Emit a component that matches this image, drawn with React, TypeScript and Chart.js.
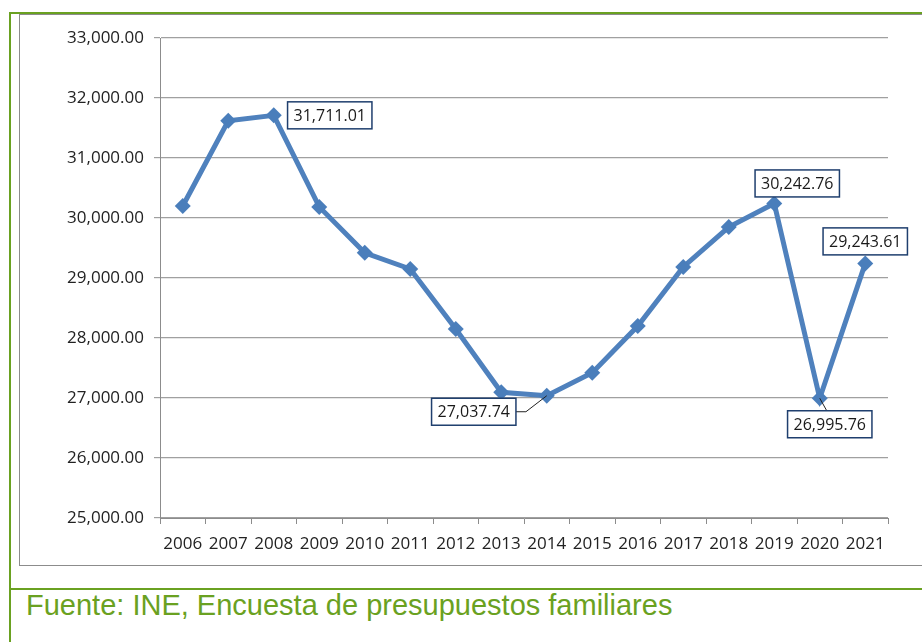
import React, { useEffect, useRef } from "react";
import { Chart, registerables } from "chart.js";

Chart.register(...registerables);

const years = ["2006", "2007", "2008", "2009", "2010", "2011", "2012", "2013", "2014", "2015", "2016", "2017", "2018", "2019", "2020", "2021"];
const gastoMedio = [30200, 31620, 31711.01, 30185, 29420, 29150, 28150, 27095, 27037.74, 27420, 28200, 29185, 29850, 30242.76, 26995.76, 29243.61];
const yMin = 25000;
const yMax = 33000;
const yStep = 1000;
const labelledYears = ["2008", "2014", "2019", "2020", "2021"];
const footerText = "Fuente: INE, Encuesta de presupuestos familiares";

// label placement (offsets relative to point, in px) – styling only
const labelPlacement: Record<string, { dx: number; dy: number; leader?: boolean }> = {
  "2008": { dx: 56, dy: 0 },
  "2014": { dx: -73, dy: 16, leader: true },
  "2019": { dx: 23, dy: -20 },
  "2020": { dx: 10, dy: 26, leader: true },
  "2021": { dx: 0, dy: -22 },
};

const fmt = (v: number) =>
  v.toLocaleString("en-US", { minimumFractionDigits: 2, maximumFractionDigits: 2 });

const FONT = "'Open Sans', 'DejaVu Sans', sans-serif";

const boxLabelPlugin = {
  id: "boxLabels",
  afterDatasetsDraw(chart: any) {
    const ctx = chart.ctx;
    const meta = chart.getDatasetMeta(0);
    ctx.save();
    ctx.font = `16px ${FONT}`;
    ctx.textAlign = "center";
    ctx.textBaseline = "middle";
    labelledYears.forEach((yr) => {
      const i = years.indexOf(yr);
      const el = meta.data[i];
      const p = labelPlacement[yr];
      const text = fmt(gastoMedio[i]);
      const w = ctx.measureText(text).width + 12;
      const h = 27;
      const cx = el.x + p.dx;
      const cy = el.y + p.dy;
      if (p.leader) {
        ctx.strokeStyle = "#222";
        ctx.lineWidth = 1;
        ctx.beginPath();
        if (p.dx < 0) {
          ctx.moveTo(cx + w / 2, cy);
          ctx.lineTo(cx + w / 2 + 10, cy);
          ctx.lineTo(el.x, el.y);
        } else {
          ctx.moveTo(el.x, el.y);
          ctx.lineTo(cx - 3, cy - h / 2);
        }
        ctx.stroke();
      }
      ctx.fillStyle = "#ffffff";
      ctx.fillRect(cx - w / 2, cy - h / 2, w, h);
      ctx.strokeStyle = "#1F3F6E";
      ctx.lineWidth = 1.5;
      ctx.strokeRect(cx - w / 2, cy - h / 2, w, h);
      ctx.fillStyle = "#1a1a1a";
      ctx.fillText(text, cx, cy + 1);
    });
    ctx.restore();
  },
};

function LineChart() {
  const ref = useRef<HTMLCanvasElement | null>(null);
  useEffect(() => {
    if (!ref.current) return;
    const chart = new Chart(ref.current, {
      type: "line",
      data: {
        labels: years,
        datasets: [
          {
            data: gastoMedio,
            borderColor: "#4F81BD",
            backgroundColor: "#4F81BD",
            borderWidth: 5,
            pointStyle: "rectRot",
            pointRadius: 8,
            pointHoverRadius: 8,
            pointBackgroundColor: "#4A7EBB",
            pointBorderColor: "#4A7EBB",
            pointBorderWidth: 0,
            tension: 0,
          },
        ],
      },
      options: {
        animation: false,
        responsive: false,
        maintainAspectRatio: false,
        layout: { padding: { top: 23, right: 34, left: 0, bottom: 0 } },
        plugins: { legend: { display: false }, tooltip: { enabled: false } },
        scales: {
          x: {
            offset: true,
            grid: { display: true, drawOnChartArea: false, drawTicks: true, tickLength: 6, offset: true, color: "#8C8C8C" },
            border: { display: true, color: "#8C8C8C", width: 1 },
            ticks: { color: "#222", font: { family: FONT, size: 17 }, maxRotation: 0, autoSkip: false, padding: 10 },
            afterFit: (s: any) => { s.height = 47; },
          },
          y: {
            min: yMin,
            max: yMax,
            ticks: {
              stepSize: yStep,
              color: "#222",
              font: { family: FONT, size: 17 },
              padding: 10,
              callback: (v: any) => fmt(Number(v)),
            },
            grid: { color: "#A0A0A0", tickLength: 6, lineWidth: 1.2 },
            border: { display: true, color: "#8C8C8C", width: 1 },
            afterFit: (s: any) => { s.width = 140; },
          },
        },
      },
      plugins: [boxLabelPlugin],
    });
    return () => chart.destroy();
  }, []);
  return <canvas ref={ref} width={902} height={550} style={{ position: "absolute", left: 20, top: 15, width: 902, height: 550 }} />;
}

export default function App() {
  const green = "#6AA121";
  return (
    <div style={{ position: "fixed", left: 0, top: 0, width: 922, height: 642, background: "#fff", overflow: "hidden" }}>
      {/* inner gray frame */}
      <div style={{ position: "absolute", left: 19, top: 14, width: 920, height: 552, border: "1px solid #8C8C8C", boxSizing: "border-box" }} />
      {/* green frame lines */}
      <div style={{ position: "absolute", left: 9, top: 12, width: 913, height: 2, background: green }} />
      <div style={{ position: "absolute", left: 9, top: 12, width: 2, height: 630, background: green }} />
      <div style={{ position: "absolute", left: 9, top: 588, width: 913, height: 2, background: green }} />
      <LineChart />
      <div
        style={{
          position: "absolute",
          left: 26,
          top: 589,
          fontFamily: "'Liberation Sans', Arial, sans-serif",
          fontSize: 29,
          color: green,
          whiteSpace: "nowrap",
        }}
      >
        {footerText}
      </div>
    </div>
  );
}
